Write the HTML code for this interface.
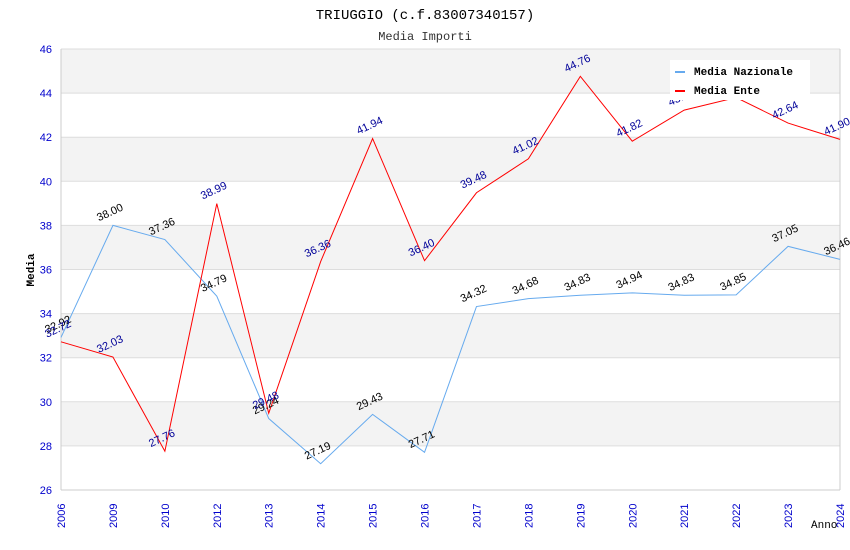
<!DOCTYPE html>
<html><head><meta charset="utf-8"><style>body{margin:0;background:#fff}svg{display:block}</style></head><body>
<svg id="c" width="850" height="550" xmlns="http://www.w3.org/2000/svg">
<text x="425" y="19" text-anchor="middle" font-family="Liberation Mono, monospace" font-size="14">TRIUGGIO (c.f.83007340157)</text>
<text x="425" y="40" text-anchor="middle" font-family="Liberation Mono, monospace" font-size="12" fill="#333">Media Importi</text>
<g id="grid"></g><g id="lines"></g><g id="labels"></g>
<text transform="translate(34,270) rotate(-90)" text-anchor="middle" font-family="Liberation Mono, monospace" font-size="11" font-weight="bold">Media</text>
<text x="811" y="528" font-family="Liberation Mono, monospace" font-size="11">Anno</text>
<g>
<rect x="670" y="60" width="140" height="40" fill="#fff"/>
<rect x="675" y="71" width="10" height="2" fill="#66aaee"/>
<text x="694" y="75" font-family="Liberation Mono, monospace" font-size="11" font-weight="bold">Media Nazionale</text>
<rect x="675" y="90" width="10" height="2" fill="#ff0000"/>
<text x="694" y="94" font-family="Liberation Mono, monospace" font-size="11" font-weight="bold">Media Ente</text>
</g>
</svg>
<script>
const years=["2006","2009","2010","2012","2013","2014","2015","2016","2017","2018","2019","2020","2021","2022","2023","2024"];
const nazionale=[32.92,38.00,37.36,34.79,29.24,27.19,29.43,27.71,34.32,34.68,34.83,34.94,34.83,34.85,37.05,36.46];
const ente=[32.72,32.03,27.76,38.99,29.48,36.36,41.94,36.40,39.48,41.02,44.76,41.82,43.23,43.80,42.64,41.90];
const yTicks=[26,28,30,32,34,36,38,40,42,44,46];
const NS="http://www.w3.org/2000/svg";
const L=61,R=840,T=49,B=490,yMin=26,yMax=46;
const xs=i=>L+i*(R-L)/(years.length-1);
const ys=v=>B-(v-yMin)/(yMax-yMin)*(B-T);
function mk(tag,attrs,parent){const e=document.createElementNS(NS,tag);for(const k in attrs)e.setAttribute(k,attrs[k]);parent.appendChild(e);return e;}
const g=document.getElementById('grid'),lg=document.getElementById('lines'),lb=document.getElementById('labels');
for(let i=0;i<yTicks.length-1;i++){
  if(i%2===1){const r=mk('rect',{x:L,y:ys(yTicks[i+1]),width:R-L,height:ys(yTicks[i])-ys(yTicks[i+1]),fill:'#f3f3f3'},g);
  
  }
}
yTicks.forEach(t=>{
  const l=mk('line',{x1:L,x2:R,y1:ys(t),y2:ys(t),stroke:'#ddd'},g);
  
  
  const tx=mk('text',{x:L-9,y:ys(t)+4,'text-anchor':'end','font-family':'Liberation Sans, sans-serif','font-size':'11',fill:'#0000cc'},g);
  tx.textContent=t;
  
  
});
mk('line',{x1:L,x2:L,y1:T,y2:B,stroke:'#ccc'},g);
mk('line',{x1:R,x2:R,y1:T,y2:B,stroke:'#ccc'},g);
mk('line',{x1:L,x2:R,y1:B,y2:B,stroke:'#ccc'},g);
years.forEach((y,i)=>{
  const tx=mk('text',{transform:`translate(${xs(i)+4},${B+38}) rotate(-90)`,'font-family':'Liberation Sans, sans-serif','font-size':'11',fill:'#0000cc'},g);
  tx.textContent=y;
  
  
});
function series(data,color,lcolor,name){
  const p=mk('polyline',{points:data.map((v,i)=>xs(i)+','+ys(v)).join(' '),fill:'none',stroke:color,'stroke-width':1},lg);
  
  
  data.forEach((v,i)=>{
    const x=xs(i),y=ys(v);
    const t=mk('text',{transform:`translate(${x-14},${y-4}) rotate(-25)`,'font-family':'Liberation Sans, sans-serif','font-size':'11',fill:lcolor},lb);
    t.textContent=v.toFixed(2);
    
    
  });
}
series(nazionale,'#66aaee','#000','nazionale');
series(ente,'#ff0000','#000099','ente');
</script>
</body></html>
